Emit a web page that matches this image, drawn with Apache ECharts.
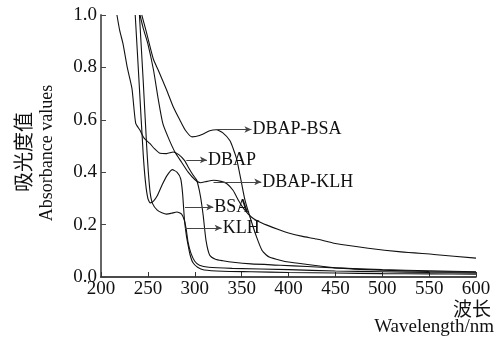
<!DOCTYPE html>
<html>
<head>
<meta charset="utf-8">
<script src="https://cdn.jsdelivr.net/npm/echarts@6/dist/echarts.min.js"></script>
<style>
html,body{margin:0;padding:0;background:#fff;}
#chart{width:499px;height:337px;}
</style>
</head>
<body>
<div id="chart"></div>
<script>
// Tick labels
const xTicks = [200, 250, 300, 350, 400, 450, 500, 550, 600];
const yTicks = [0.0, 0.2, 0.4, 0.6, 0.8, 1.0];

// DBAP
const dbapX = [217, 220, 223.5, 228, 233, 237, 241.6, 246, 252, 257, 263, 270, 277, 283, 289, 293, 298, 302, 306, 309, 312, 316, 322, 330, 341, 360, 391, 420, 450, 500, 550, 600];
const dbapY = [1.0, 0.94, 0.89, 0.80, 0.72, 0.587, 0.56, 0.53, 0.51, 0.49, 0.472, 0.471, 0.477, 0.467, 0.445, 0.42, 0.39, 0.37, 0.31, 0.235, 0.14, 0.083, 0.068, 0.062, 0.056, 0.05, 0.045, 0.04, 0.035, 0.028, 0.024, 0.02];

// DBAP-KLH
const dbapKlhX = [241.6, 245, 250, 256, 261, 266, 272, 279, 286, 293, 300, 306, 313, 320, 328, 334, 341, 347, 352, 360, 367, 377, 390, 400, 415, 430, 450, 485, 520, 555, 600];
const dbapKlhY = [1.0, 0.95, 0.89, 0.79, 0.68, 0.585, 0.53, 0.476, 0.438, 0.40, 0.372, 0.36, 0.365, 0.369, 0.365, 0.357, 0.33, 0.29, 0.262, 0.23, 0.214, 0.198, 0.18, 0.168, 0.155, 0.145, 0.128, 0.11, 0.096, 0.086, 0.072];

// DBAP-BSA
const dbapBsaX = [243.5, 248, 252.3, 256, 261, 270, 277, 284, 290, 297, 305, 316, 323, 330, 337.6, 342, 345, 350, 353.6, 359, 366, 371.7, 376, 380, 391, 400, 420, 450, 500, 550, 600];
const dbapBsaY = [1.0, 0.94, 0.879, 0.83, 0.79, 0.714, 0.65, 0.60, 0.56, 0.535, 0.54, 0.558, 0.562, 0.55, 0.52, 0.48, 0.446, 0.357, 0.293, 0.228, 0.152, 0.102, 0.085, 0.075, 0.064, 0.057, 0.048, 0.035, 0.026, 0.021, 0.018];

// BSA
const bsaX = [236.5, 241, 245, 247.5, 250, 252.5, 256, 260, 265, 270, 276, 281, 285, 287, 289, 291, 293, 295, 298, 303, 310, 330, 360, 400, 450, 500, 550, 600];
const bsaY = [1.0, 0.72, 0.47, 0.36, 0.30, 0.283, 0.29, 0.31, 0.35, 0.385, 0.41, 0.40, 0.375, 0.32, 0.22, 0.16, 0.12, 0.085, 0.055, 0.037, 0.027, 0.022, 0.02, 0.017, 0.015, 0.013, 0.012, 0.011];

// KLH
const klhX = [241, 245, 248.7, 250.5, 252.5, 255, 260, 265, 270, 275, 281, 286, 289, 291, 293, 296, 300, 305, 315, 340, 400, 450, 500, 550, 600];
const klhY = [1.0, 0.75, 0.50, 0.40, 0.32, 0.28, 0.255, 0.245, 0.24, 0.243, 0.248, 0.24, 0.215, 0.18, 0.13, 0.09, 0.06, 0.045, 0.037, 0.033, 0.028, 0.023, 0.02, 0.017, 0.015];

// Annotation arrows (data units)
const seriesNames = ['DBAP-BSA', 'DBAP', 'DBAP-KLH', 'BSA', 'KLH'];
const arrowStartX = [323, 291, 320, 289.6, 289.6];
const arrowEndX   = [360.5, 313, 371, 319.8, 328.7];
const arrowY      = [0.563, 0.447, 0.363, 0.267, 0.187];

const seriesX = [dbapBsaX, dbapX, dbapKlhX, bsaX, klhX];
const seriesY = [dbapBsaY, dbapY, dbapKlhY, bsaY, klhY];

const SERIF = '"Liberation Serif", "DejaVu Serif", serif';
const CJK = '"Noto Sans CJK SC", sans-serif';

const chart = echarts.init(document.getElementById('chart'), null, {renderer: 'canvas'});

const series = seriesNames.map((name, i) => ({
  name: name,
  type: 'line',
  showSymbol: false,
  smooth: 0.2,
  lineStyle: {color: '#111', width: 1.1},
  data: seriesX[i].map((x, j) => [x, seriesY[i][j]]),
  markLine: {
    silent: true,
    symbol: ['none', 'arrow'],
    symbolSize: [5, 7],
    lineStyle: {color: '#444', width: 1, type: 'solid'},
    label: {
      show: true,
      position: 'end',
      distance: 1,
      formatter: name,
      color: '#111',
      fontFamily: SERIF,
      fontSize: 18
    },
    data: [[
      {coord: [arrowStartX[i], arrowY[i]]},
      {coord: [arrowEndX[i], arrowY[i]]}
    ]]
  }
}));

chart.setOption({
  animation: false,
  backgroundColor: '#fff',
  grid: {left: 101, right: 23, top: 15, bottom: 60, containLabel: false},
  xAxis: {
    type: 'value',
    min: xTicks[0],
    max: xTicks[xTicks.length - 1],
    interval: 50,
    axisLine: {show: true, lineStyle: {color: '#111', width: 1.5}},
    axisTick: {show: true, inside: true, length: 5, lineStyle: {color: '#333'}},
    axisLabel: {color: '#111', fontFamily: SERIF, fontSize: 19, margin: 3},
    splitLine: {show: false}
  },
  yAxis: {
    type: 'value',
    min: yTicks[0],
    max: yTicks[yTicks.length - 1],
    interval: 0.2,
    axisLine: {show: true, lineStyle: {color: '#666', width: 2}},
    axisTick: {show: true, inside: true, length: 5, lineStyle: {color: '#444'}},
    axisLabel: {color: '#111', fontFamily: SERIF, fontSize: 19, margin: 4,
      formatter: v => v.toFixed(1)},
    splitLine: {show: false}
  },
  graphic: [
    {type: 'text', x: 23, y: 152, rotation: Math.PI / 2,
      style: {text: '吸光度值', font: '20px ' + CJK, fill: '#111', textAlign: 'center', textVerticalAlign: 'middle'}},
    {type: 'text', x: 47, y: 153, rotation: Math.PI / 2,
      style: {text: 'Absorbance values', font: '18px ' + SERIF, fill: '#111', textAlign: 'center', textVerticalAlign: 'middle'}},
    {type: 'text', x: 491, y: 309,
      style: {text: '波长', font: '19px ' + CJK, fill: '#111', textAlign: 'right', textVerticalAlign: 'middle'}},
    {type: 'text', x: 494, y: 327,
      style: {text: 'Wavelength/nm', font: '19px ' + SERIF, fill: '#111', textAlign: 'right', textVerticalAlign: 'middle'}}
  ],
  series: series
});
</script>
</body>
</html>
